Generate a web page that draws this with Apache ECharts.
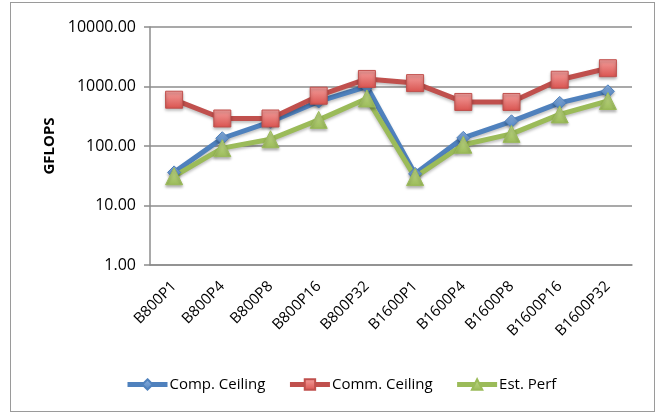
<!DOCTYPE html>
<html>
<head>
<meta charset="utf-8">
<script src="https://cdn.jsdelivr.net/npm/echarts@6/dist/echarts.min.js"></script>
<style>
html,body{margin:0;padding:0;background:#fff;}
#frame{position:absolute;left:10px;top:2px;width:645px;height:410px;border:1.5px solid #9a9a9a;box-sizing:border-box;}
#chart{position:absolute;left:0;top:0;width:660px;height:414px;}
</style>
</head>
<body>
<div id="frame"></div>
<div id="chart"></div>
<script>
const categories = ['B800P1','B800P4','B800P8','B800P16','B800P32','B1600P1','B1600P4','B1600P8','B1600P16','B1600P32'];
const compCeiling = [36, 135, 255, 560, 1000, 34, 137, 260, 530, 830];
const commCeiling = [600, 290, 290, 700, 1340, 1140, 550, 550, 1300, 2030];
const estPerf = [31, 92, 130, 275, 630, 30, 105, 160, 340, 570];
const yTicks = [1, 10, 100, 1000, 10000];
const seriesNames = ['Comp. Ceiling', 'Comm. Ceiling', 'Est. Perf'];

const FONT = '"Open Sans", sans-serif';
const chart = echarts.init(document.getElementById('chart'), null, {renderer: 'canvas'});

function grad(top, bottom) {
  return new echarts.graphic.LinearGradient(0, 0, 0, 1, [
    {offset: 0, color: top}, {offset: 1, color: bottom}
  ]);
}

function mkSeries(name, data, color, symbol, size, markerFill) {
  return {
    name: name,
    type: 'line',
    data: data,
    symbol: symbol,
    symbolSize: size,
    lineStyle: {color: color, width: 5, shadowColor: 'rgba(0,0,0,0.25)', shadowBlur: 3, shadowOffsetY: 2},
    itemStyle: {color: markerFill, borderColor: color, borderWidth: 1, shadowColor: 'rgba(0,0,0,0.3)', shadowBlur: 3, shadowOffsetY: 2},
    emphasis: {disabled: true},
    animation: false
  };
}

chart.setOption({
  animation: false,
  textStyle: {fontFamily: FONT},
  grid: {left: 150, right: 28, top: 27, bottom: 149, containLabel: false},
  legend: {
    top: 372,
    left: 120,
    itemWidth: 40,
    itemHeight: 13,
    itemGap: 22,
    lineStyle: {width: 5},
    textStyle: {fontFamily: FONT, fontSize: 15, color: '#000', padding: [0, 0, 0, -3]},
    data: seriesNames
  },
  xAxis: {
    type: 'category',
    data: categories,
    boundaryGap: true,
    axisLine: {lineStyle: {color: '#8c8c8c', width: 1.5}},
    axisTick: {show: false},
    axisLabel: {rotate: 45, margin: 19, fontSize: 15, color: '#000', fontFamily: FONT, interval: 0}
  },
  yAxis: {
    type: 'log',
    logBase: 10,
    min: yTicks[0],
    max: yTicks[yTicks.length - 1],
    name: 'GFLOPS',
    nameLocation: 'middle',
    nameGap: 92,
    nameRotate: 90,
    nameTextStyle: {fontFamily: FONT, fontSize: 15, fontWeight: 'bold', color: '#000'},
    axisLine: {show: true, lineStyle: {color: '#8c8c8c', width: 1.5}},
    axisTick: {show: true, length: 6, lineStyle: {color: '#8c8c8c', width: 1.5}},
    splitLine: {lineStyle: {color: '#8c8c8c', width: 1.5}},
    axisLabel: {fontSize: 16, color: '#000', fontFamily: FONT, margin: 14, formatter: v => Number(v).toFixed(2)}
  },
  series: [
    mkSeries(seriesNames[0], compCeiling, '#4F81BD', 'diamond', 13, grad('#8DB3E2', '#4F81BD')),
    mkSeries(seriesNames[1], commCeiling, '#C0504D', 'rect', 17, grad('#F4A09E', '#D9534F')),
    mkSeries(seriesNames[2], estPerf, '#9BBB59', 'triangle', 17, grad('#C3DB8C', '#9BBB59'))
  ]
});
</script>
</body>
</html>
